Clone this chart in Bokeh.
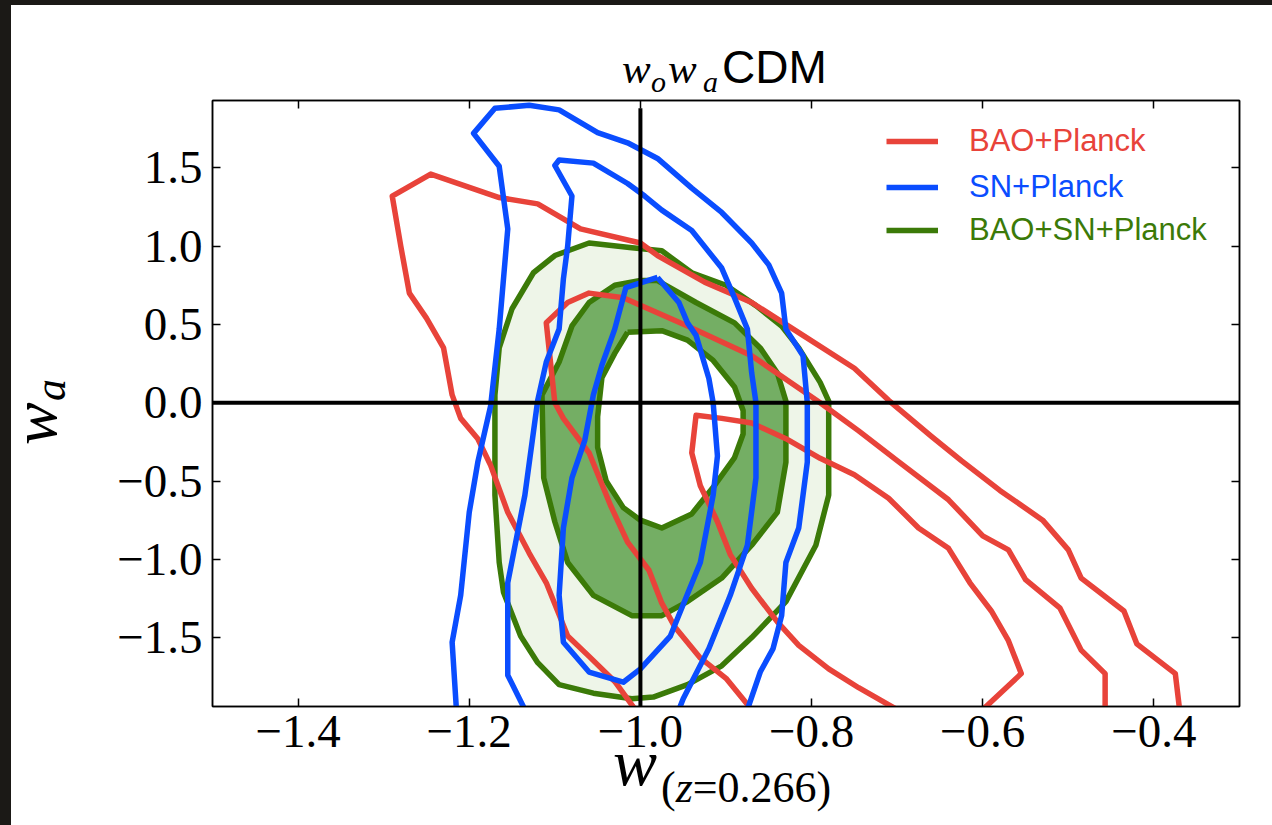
from bokeh.plotting import figure
from bokeh.models import (Range1d, FixedTicker, LinearAxis, CustomJSTickFormatter, Span, Legend,
                          LegendItem, Spacer, Div)
from bokeh.layouts import column, row
from bokeh.embed import file_html
from bokeh.resources import INLINE

# ---------------- data (w0, wa) ----------------
x_ticks = [-1.4, -1.2, -1.0, -0.8, -0.6, -0.4]
y_ticks = [-1.5, -1.0, -0.5, 0.0, 0.5, 1.0, 1.5]
x_limits = [-1.5, -0.3]
y_limits = [-1.94, 1.93]

# BAO+Planck contours (red)
bao_c1_x = [-1.006, -1.03, -1.06, -1.085, -1.11, -1.13, -1.155, -1.175, -1.19, -1.21, -1.22, -1.23, -1.25,
            -1.27, -1.28, -1.29, -1.245, -1.165, -1.12, -1.07, -1.00, -0.98, -0.925, -0.87, -0.81, -0.75,
            -0.71, -0.66, -0.625, -0.58, -0.53, -0.50, -0.485, -0.435, -0.42, -0.375, -0.37]
bao_c1_y = [-1.96, -1.78, -1.62, -1.49, -1.15, -0.96, -0.70, -0.40, -0.23, -0.10, 0.05, 0.35, 0.54,
            0.70, 1.00, 1.32, 1.46, 1.31, 1.27, 1.11, 1.02, 0.94, 0.77, 0.64, 0.43, 0.22,
            0.015, -0.215, -0.37, -0.56, -0.75, -0.94, -1.12, -1.33, -1.54, -1.73, -1.96]
bao_c2_x = [-0.87, -0.90, -0.93, -0.96, -0.975, -0.99, -1.015, -1.035, -1.06, -1.09, -1.10, -1.11, -1.085,
            -1.06, -1.02, -0.945, -0.87, -0.79, -0.745, -0.70, -0.64, -0.60, -0.57, -0.55, -0.51, -0.485,
            -0.457, -0.457]
bao_c2_y = [-1.96, -1.76, -1.63, -1.43, -1.28, -1.07, -0.89, -0.655, -0.32, -0.10, 0.00, 0.51, 0.64,
            0.70, 0.67, 0.49, 0.30, 0.00, -0.18, -0.37, -0.62, -0.85, -0.94, -1.13, -1.31, -1.58,
            -1.73, -1.96]
bao_c3_x = [-0.70, -0.745, -0.78, -0.815, -0.84, -0.87, -0.895, -0.91, -0.93, -0.94, -0.935, -0.905,
            -0.87, -0.83, -0.79, -0.75, -0.71, -0.675, -0.64, -0.615, -0.59, -0.57, -0.555, -0.60]
bao_c3_y = [-1.96, -1.82, -1.70, -1.55, -1.40, -1.185, -0.97, -0.76, -0.53, -0.32, -0.08, -0.10,
            -0.13, -0.23, -0.355, -0.46, -0.61, -0.80, -0.93, -1.15, -1.33, -1.52, -1.73, -1.96]

# SN+Planck contours (blue)
sn_c1_x = [-1.215, -1.22, -1.21, -1.20, -1.19, -1.175, -1.165, -1.155, -1.165, -1.195, -1.17, -1.13,
           -1.095, -1.05, -1.015, -0.98, -0.94, -0.905, -0.87, -0.85, -0.835, -0.83, -0.81, -0.805,
           -0.805, -0.815, -0.83, -0.835, -0.845, -0.86, -0.875]
sn_c1_y = [-1.96, -1.53, -1.23, -0.70, -0.38, -0.02, 0.47, 1.11, 1.51, 1.72, 1.88, 1.90,
           1.87, 1.725, 1.66, 1.56, 1.37, 1.215, 1.02, 0.88, 0.70, 0.47, 0.30, 0.00,
           -0.38, -0.80, -1.02, -1.36, -1.57, -1.72, -1.96]
sn_c2_x = [-1.135, -1.155, -1.155, -1.135, -1.12, -1.11, -1.095, -1.09, -1.085, -1.08, -1.10, -1.095,
           -1.055, -1.015, -0.995, -0.975, -0.94, -0.905, -0.89, -0.875, -0.87, -0.865, -0.865, -0.875,
           -0.895, -0.92, -0.95, -0.955]
sn_c2_y = [-1.96, -1.74, -1.15, -0.59, 0.015, 0.26, 0.47, 0.79, 1.00, 1.32, 1.515, 1.55,
           1.53, 1.40, 1.32, 1.23, 1.10, 0.86, 0.67, 0.47, 0.19, 0.00, -0.48, -0.91,
           -1.23, -1.57, -1.89, -1.96]
sn_c3_x = [-0.98, -1.017, -1.03, -1.045, -1.055, -1.065, -1.08, -1.09, -1.095, -1.09, -1.06, -1.02,
           -1.00, -0.965, -0.93, -0.915, -0.91, -0.915, -0.92, -0.935, -0.945, -0.955]
sn_c3_y = [0.80, 0.735, 0.47, 0.24, 0.05, -0.24, -0.48, -0.80, -1.23, -1.53, -1.72, -1.785,
           -1.70, -1.49, -1.02, -0.59, -0.34, 0.00, 0.155, 0.43, 0.51, 0.64]

# BAO+SN+Planck contours (green, filled)
comb_2s_x = [-1.17, -1.165, -1.15, -1.125, -1.10, -1.06, -1.01, -0.975, -0.94, -0.90, -0.865, -0.835,
             -0.815, -0.79, -0.78, -0.78, -0.795, -0.83, -0.87, -0.905, -0.945, -0.985, -1.01, -1.055,
             -1.095, -1.12, -1.14, -1.16, -1.165, -1.17]
comb_2s_y = [0.05, 0.35, 0.60, 0.83, 0.94, 1.02, 0.99, 0.97, 0.83, 0.75, 0.62, 0.49,
             0.35, 0.13, 0.01, -0.59, -0.91, -1.27, -1.50, -1.68, -1.80, -1.88, -1.89, -1.855,
             -1.80, -1.66, -1.49, -1.21, -1.02, -0.59]
comb_1s_x = [-1.115, -1.095, -1.08, -1.06, -1.03, -1.00, -0.98, -0.935, -0.89, -0.86, -0.84, -0.83,
             -0.83, -0.84, -0.87, -0.905, -0.945, -0.975, -1.01, -1.055, -1.085, -1.10, -1.113]
comb_1s_y = [0.05, 0.26, 0.49, 0.64, 0.75, 0.78, 0.78, 0.64, 0.51, 0.35, 0.19, 0.01,
             -0.38, -0.70, -0.91, -1.12, -1.27, -1.36, -1.36, -1.23, -1.02, -0.76, -0.48]
comb_hole_x = [-1.015, -0.975, -0.945, -0.915, -0.89, -0.88, -0.88, -0.89, -0.915, -0.94, -0.975, -1.00,
               -1.02, -1.04, -1.05, -1.05, -1.045, -1.03]
comb_hole_y = [0.45, 0.46, 0.40, 0.27, 0.10, -0.05, -0.20, -0.35, -0.54, -0.71, -0.80, -0.75,
               -0.67, -0.50, -0.285, -0.09, 0.16, 0.315]

# reference lines (LambdaCDM)
vline_x = -1.0
vline_y0 = -2.0
vline_y1 = 1.88
hline_y = 0.0

labels = ["BAO+Planck", "SN+Planck", "BAO+SN+Planck"]

# ---------------- styles ----------------
RED = "#E8433A"
BLUE = "#0A4DFF"
GREEN = "#3B7A08"
GREEN_DARK_FILL = "#74AE64"
GREEN_LIGHT_FILL = "#EEF5E8"
DARK = "#1b1916"
LW = 5.5
SERIF = "Liberation Serif"
SANS = "Liberation Sans"

FIG_H = 679
TITLE_H = 90
XLAB_H = 820 - TITLE_H - FIG_H


def closed(v):
    return list(v) + [v[0]]


fig = figure(width=1171, height=FIG_H, output_backend="svg", toolbar_location=None,
             x_range=Range1d(*x_limits), y_range=Range1d(*y_limits),
             min_border_left=111, min_border_right=33, min_border_top=5, min_border_bottom=FIG_H - 611,
             background_fill_color="white", border_fill_color="white", margin=0)
fig.grid.visible = False
fig.outline_line_color = "black"
fig.outline_line_width = 1.5

fmt = CustomJSTickFormatter(code="return (tick < -1e-9 ? '\\u2212' : '') + Math.abs(tick).toFixed(1);")


def style_axis(ax, ticks, show_labels):
    ax.ticker = FixedTicker(ticks=ticks)
    ax.formatter = fmt
    ax.major_tick_in = 8
    ax.major_tick_out = 0
    ax.minor_tick_line_color = None
    ax.major_tick_line_color = "black"
    ax.major_tick_line_width = 1.5
    ax.axis_line_color = "black"
    ax.axis_line_width = 1.5
    ax.axis_label = None
    if show_labels:
        ax.major_label_text_font = SERIF
        ax.major_label_text_font_size = "47px"
        ax.major_label_text_color = "black"
    else:
        ax.major_label_text_font_size = "1px"
        ax.major_label_text_color = None
        ax.major_label_standoff = 0


style_axis(fig.xaxis[0], x_ticks, True)
style_axis(fig.yaxis[0], y_ticks, True)
fig.xaxis[0].major_label_standoff = 9
fig.yaxis[0].major_label_standoff = 10
top_ax = LinearAxis()
style_axis(top_ax, x_ticks, False)
fig.add_layout(top_ax, "above")
right_ax = LinearAxis()
style_axis(right_ax, y_ticks, False)
fig.add_layout(right_ax, "right")

# green filled regions
fig.patch(comb_2s_x, comb_2s_y, fill_color=GREEN_LIGHT_FILL, line_color=None)
fig.patch(comb_1s_x, comb_1s_y, fill_color=GREEN_DARK_FILL, line_color=None)
fig.patch(comb_hole_x, comb_hole_y, fill_color="white", line_color=None)
g_line = fig.line(closed(comb_2s_x), closed(comb_2s_y), line_color=GREEN, line_width=LW, line_join="round")
fig.line(closed(comb_1s_x), closed(comb_1s_y), line_color=GREEN, line_width=LW, line_join="round")
fig.line(closed(comb_hole_x), closed(comb_hole_y), line_color=GREEN, line_width=LW, line_join="round")

# red
r_line = fig.line(bao_c1_x, bao_c1_y, line_color=RED, line_width=LW, line_join="round")
fig.line(bao_c2_x, bao_c2_y, line_color=RED, line_width=LW, line_join="round")
fig.line(bao_c3_x, bao_c3_y, line_color=RED, line_width=LW, line_join="round")

# blue
b_line = fig.line(sn_c1_x, sn_c1_y, line_color=BLUE, line_width=LW, line_join="round")
fig.line(sn_c2_x, sn_c2_y, line_color=BLUE, line_width=LW, line_join="round")
fig.line(closed(sn_c3_x), closed(sn_c3_y), line_color=BLUE, line_width=LW, line_join="round")

# reference lines
fig.segment(x0=[vline_x], y0=[vline_y0], x1=[vline_x], y1=[vline_y1], line_color="black", line_width=4)
fig.add_layout(Span(location=hline_y, dimension="width", line_color="black", line_width=4))

# legend: one per entry so each label gets its own colour
for lab, rend, col, vy in zip(labels, [r_line, b_line, g_line], [RED, BLUE, GREEN], [547, 501, 458]):
    leg = Legend(items=[LegendItem(label=lab, renderers=[rend])], location=(674, vy),
                 label_text_color=col, label_text_font=SANS, label_text_font_size="31px",
                 glyph_width=52, glyph_height=36, label_height=36, label_standoff=31,
                 padding=0, margin=0, spacing=0, border_line_color=None, background_fill_alpha=0)
    fig.add_layout(leg)

# ---------------- texts with mixed styles (title, axis labels) as HTML ----------------
ASC = {SERIF: 0.8375, SANS: 0.8465}   # baseline offset for line-height:1


def piece(text, left, baseline, size, family=SERIF, italic=False, rotate=False):
    top = baseline - ASC[family] * size
    extra = "transform-origin:0 0;transform:rotate(-90deg);" if rotate else ""
    if rotate:
        left, top = baseline - ASC[family] * size, left   # here 'left' is the start y, 'baseline' the x
    return (f'<span style="position:absolute;left:{left:.1f}px;top:{top:.1f}px;font-size:{size}px;'
            f'line-height:1;font-family:\'{family}\';font-style:{"italic" if italic else "normal"};'
            f'white-space:nowrap;color:#000;{extra}">{text}</span>')


def box(w, h, parts):
    html = f'<div style="position:relative;width:{w}px;height:{h}px;">' + "".join(parts) + "</div>"
    return Div(text=html, width=w, height=h, margin=0, styles={"overflow": "visible"})


title_div = box(1261, TITLE_H, [
    piece("w", 611, 78, 43, SERIF, True),
    piece("o", 640, 87, 30, SERIF, True),
    piece("w", 657, 78, 43, SERIF, True),
    piece("a", 692, 87, 30, SERIF, True),
    piece("CDM", 711, 78, 46, SANS),
])

SUB = 44
base_w = 785 - 5 - TITLE_H - FIG_H
base_s = 803 - 5 - TITLE_H - FIG_H
xlab_div = box(1261, XLAB_H, [
    piece("w", 602, base_w, 66, SERIF, True),
    piece("(", 650, base_s, SUB, SERIF),
    piece("z", 650 + 0.333 * SUB, base_s, SUB, SERIF, True),
    piece("=0.266)", 650 + 0.722 * SUB, base_s, SUB, SERIF),
])

ylab_div = box(90, FIG_H, [
    piece("w", 350, 46, 64, SERIF, True, rotate=True),
    piece("a", 306, 55, SUB, SERIF, True, rotate=True),
])

white_area = column(title_div, row(ylab_div, fig), xlab_div,
                    styles={"background-color": "white"})

p = column(Spacer(width=1272, height=5, styles={"background-color": DARK}),
           row(Spacer(width=11, height=820, styles={"background-color": DARK}), white_area),
           styles={"background-color": DARK})

open("out.html", "w").write(file_html(p, INLINE))
